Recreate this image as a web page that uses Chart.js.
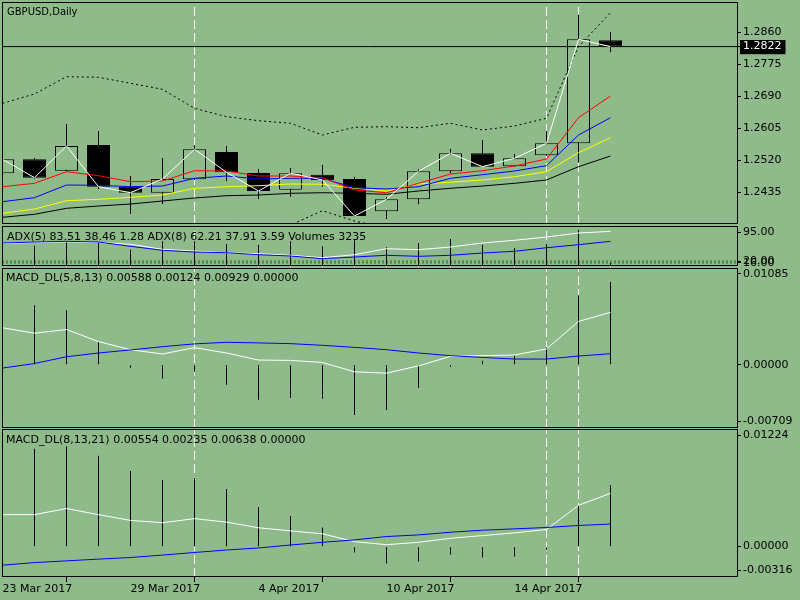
<!DOCTYPE html>
<html><head><meta charset="utf-8">
<script src="https://cdn.jsdelivr.net/npm/chart.js@4.4.1/dist/chart.umd.min.js"></script>
<style>
html,body{margin:0;padding:0;background:#8fbb8b;width:800px;height:600px;overflow:hidden}
canvas{position:absolute;left:0}
</style></head><body>
<canvas id="cMain" width="800" height="226" style="top:0px"></canvas>
<canvas id="cAdx" width="800" height="44" style="top:224px"></canvas>
<canvas id="cM1" width="800" height="164" style="top:266px"></canvas>
<canvas id="cM2" width="800" height="173" style="top:427px"></canvas>
<script>
// ---------------- DATA ----------------
const dates = ['23 Mar 2017','24 Mar 2017','27 Mar 2017','28 Mar 2017','29 Mar 2017','30 Mar 2017','31 Mar 2017','3 Apr 2017','4 Apr 2017','5 Apr 2017','6 Apr 2017','7 Apr 2017','10 Apr 2017','11 Apr 2017','12 Apr 2017','13 Apr 2017','14 Apr 2017','17 Apr 2017','18 Apr 2017','19 Apr 2017'];
const dateTickEvery = 4;
const separatorBars = [6, 17, 18];

const openP  = [1.24855,1.25227,1.24924,1.25606,1.24499,1.24339,1.24695,1.25420,1.24863,1.24419,1.24818,1.24703,1.23845,1.24164,1.24908,1.25386,1.25041,1.25333,1.25652,1.28388];
const highP  = [1.25260,1.25261,1.26164,1.25978,1.24783,1.25261,1.25598,1.25580,1.24969,1.24996,1.25083,1.24764,1.24225,1.24961,1.25508,1.25739,1.25367,1.25978,1.29068,1.28608];
const lowP   = [1.24820,1.24703,1.24910,1.24438,1.23782,1.24039,1.24680,1.24650,1.24172,1.24233,1.24499,1.23710,1.23641,1.24031,1.24855,1.25030,1.25030,1.25320,1.25147,1.28069];
const closeP = [1.25227,1.24738,1.25580,1.24499,1.24339,1.24703,1.25492,1.24881,1.24385,1.24855,1.24677,1.23720,1.24164,1.24908,1.25386,1.25030,1.25253,1.25652,1.28414,1.28220];

const maRed    = [1.24499,1.24589,1.24897,1.24791,1.24632,1.24650,1.24924,1.24916,1.24783,1.24783,1.24738,1.24411,1.24339,1.24589,1.24836,1.24924,1.25049,1.25235,1.26332,1.26908];
const maBlue   = [1.24100,1.24207,1.24544,1.24536,1.24499,1.24517,1.24722,1.24783,1.24703,1.24722,1.24722,1.24472,1.24438,1.24499,1.24722,1.24818,1.24916,1.25057,1.25872,1.26332];
const maYellow = [1.23792,1.23906,1.24127,1.24164,1.24217,1.24278,1.24456,1.24499,1.24525,1.24571,1.24563,1.24456,1.24385,1.24571,1.24616,1.24677,1.24764,1.24897,1.25402,1.25800];
const maBlack  = [1.23686,1.23766,1.23925,1.23986,1.24039,1.24119,1.24199,1.24260,1.24278,1.24323,1.24339,1.24323,1.24297,1.24385,1.24456,1.24517,1.24589,1.24677,1.25030,1.25314];
const bandUpper = [1.26714,1.26961,1.27421,1.27405,1.27245,1.27086,1.26581,1.26358,1.26252,1.26183,1.25872,1.26077,1.26093,1.26066,1.26183,1.26005,1.26111,1.26316,1.28218,1.29121];
const bandLower = [null,null,null,null,null,null,null,null,1.23300,1.23481,1.23861,1.23588,1.23400,null,null,null,null,null,null,null];

const priceTickLabels = ['1.2860','1.2775','1.2690','1.2605','1.2520','1.2435'];
const priceMin = 1.23508, priceMax = 1.29405;

const adx5  = [57.5,59.7,61.2,59.7,55.8,45.1,41.5,37.8,35.7,32.3,27.1,33.6,46.4,44.3,50.0,58.6,64.4,71.4,80.0,83.51];
const adx8  = [58.6,60.7,62.2,60.7,51.5,43.0,39.3,37.8,33.6,30.8,25.0,28.6,32.3,30.1,32.3,37.2,40.8,48.5,55.0,62.21];
const volumes = [null,21900,25900,25900,17600,26600,26600,23700,23000,26600,21200,27700,20200,24800,29100,23000,19400,23700,39100,3235];
const adxLevels = [20, 16];
const adxTickLabels = ['95.00','20.00','16.00'];
const adxMin = 9.4, adxMax = 95, volMax = 43120;

const m1Hist  = [null,0.00667,0.00610,0.00252,-0.00034,-0.00155,-0.00079,-0.00223,-0.00392,-0.00370,-0.00381,-0.00562,-0.00506,-0.00257,-0.00023,0.00045,0.00102,0.00195,0.00780,0.00929];
const m1Main  = [0.00415,0.00354,0.00395,0.00260,0.00169,0.00121,0.00192,0.00132,0.00053,0.00049,0.00026,-0.00079,-0.00094,-0.00012,0.00094,0.00102,0.00110,0.00177,0.00486,0.00588];
const m1Sig   = [-0.00037,0.00014,0.00090,0.00132,0.00166,0.00203,0.00234,0.00252,0.00245,0.00237,0.00218,0.00195,0.00169,0.00132,0.00102,0.00082,0.00064,0.00064,0.00098,0.00124];
const m1TickLabels = ['0.01085','0.00000','-0.00709'];

const m2Hist  = [null,0.01019,0.01043,0.00945,0.00788,0.00693,0.00717,0.00599,0.00412,0.00318,0.00199,-0.00061,-0.00176,-0.00155,-0.00082,-0.00113,-0.00103,-0.00035,0.00430,0.00638];
const m2Main  = [0.00333,0.00333,0.00396,0.00333,0.00273,0.00249,0.00291,0.00255,0.00196,0.00164,0.00133,0.00052,0.00020,0.00045,0.00087,0.00115,0.00143,0.00178,0.00430,0.00554];
const m2Sig   = [-0.00193,-0.00166,-0.00148,-0.00130,-0.00113,-0.00088,-0.00061,-0.00035,-0.00014,0.00017,0.00045,0.00070,0.00105,0.00122,0.00150,0.00171,0.00185,0.00199,0.00220,0.00235];
const m2TickLabels = ['0.01224','0.00000','-0.00316'];

const titleMain = 'GBPUSD,Daily';
const titleAdx = 'ADX(5) 83.51 38.46 1.28 ADX(8) 62.21 37.91 3.59 Volumes 3235';
const titleM1 = 'MACD_DL(5,8,13) 0.00588 0.00124 0.00929 0.00000';
const titleM2 = 'MACD_DL(8,13,21) 0.00554 0.00235 0.00638 0.00000';

// ---------------- LAYOUT / STYLE ----------------
const BG = '#8fbb8b';
const FAM = '"DejaVu Sans", sans-serif';
Chart.defaults.font.family = FAM;
Chart.defaults.font.size = 11;
Chart.defaults.color = '#000';
const BAR_PX = 32, PLOT_W = 735;
const X_MIN = -0.5 / BAR_PX;
const X_MAX = X_MIN + PLOT_W / BAR_PX;
const N = dates.length;
const bid = closeP[N - 1];

const P = arr => arr.map((v, i) => ({x: i, y: v}));
const line = (arr, color, order, extra) => Object.assign({type: 'line', data: P(arr), borderColor: color, borderWidth: 1, pointRadius: 0, tension: 0, order}, extra || {});
const sepSets = (min, max) => separatorBars.map(i => ({type: 'line', data: [{x: i, y: min}, {x: i, y: max}], borderColor: '#ffffff', borderWidth: 1, borderDash: [9, 4], pointRadius: 0, order: 50}));
const hbar = (arr, order, axis) => ({type: 'bar', data: P(arr), backgroundColor: '#000', borderWidth: 0, barThickness: 1, grouped: false, inflateAmount: 0, order, yAxisID: axis || 'y'});

function edgeTicks(labels, min, max, h) {
  return labels.map(t => {
    let v = parseFloat(t);
    if (Math.abs(v - max) < 1e-9) v = max - 6 * (max - min) / h;
    else if (Math.abs(v - min) < 1e-9) v = min + 7 * (max - min) / h;
    return {value: v, text: t};
  });
}
const noPad = s => { s.paddingTop = 0; s.paddingBottom = 0; s.paddingLeft = 0; s.paddingRight = 0; };

const panelPlugin = {
  id: 'panel',
  afterDraw(chart, args, opts) {
    const {ctx, chartArea: a} = chart;
    ctx.save();
    ctx.strokeStyle = '#000'; ctx.lineWidth = 1;
    ctx.strokeRect(a.left + 0.5, a.top + 0.5, a.right - a.left, a.bottom - a.top - 1);
    if (opts.title) {
      ctx.font = opts.size + 'px ' + FAM; ctx.fillStyle = '#000';
      ctx.textBaseline = 'middle'; ctx.textAlign = 'left';
      ctx.fillText(opts.title, a.left + opts.dx, a.top + opts.dy);
    }
    ctx.restore();
  }
};

function makeOptions(c) {
  const scales = {
    x: {type: 'linear', min: X_MIN, max: X_MAX, offset: false, display: !!c.showX,
        afterFit: s => { s.height = c.showX ? 23 : 0; noPad(s); },
        afterBuildTicks: s => { s.ticks = dates.map((d, i) => i).filter(i => i % dateTickEvery === 0).map(i => ({value: i})); },
        ticks: {callback: v => dates[v], align: 'start', maxRotation: 0, autoSkip: false, padding: 1, font: {size: 11}, color: '#000'},
        grid: {drawOnChartArea: false, drawTicks: true, tickLength: 5, color: '#000'},
        border: {display: false}},
    y: {type: 'linear', position: 'right', min: c.min, max: c.max,
        afterFit: s => { s.width = 800 - 737; noPad(s); },
        afterBuildTicks: s => { s.ticks = c.ticks.map(t => Object.assign({}, t)); },
        ticks: {callback: (v, i, t) => t[i].text, padding: 2, font: {size: 11}, autoSkip: false,
                color: ctx => (ctx.tick && ctx.tick.bid) ? '#ffffff' : '#000000',
                showLabelBackdrop: ctx => !!(ctx.tick && ctx.tick.bid),
                backdropColor: '#000000',
                backdropPadding: {left: 3, right: 4, top: 0, bottom: 1}},
        grid: {drawOnChartArea: false, drawTicks: true, tickLength: 4, color: '#000'},
        border: {display: false}}
  };
  if (c.extraScales) Object.assign(scales, c.extraScales);
  return {
    responsive: false, animation: false, devicePixelRatio: 1,
    layout: {padding: {left: 2, right: 0, top: 2, bottom: c.showX ? 0 : 2}},
    events: [],
    plugins: {legend: {display: false}, tooltip: {enabled: false},
              panel: {title: c.title, size: c.titleSize || 11, dx: c.dx, dy: c.dy}},
    scales
  };
}

// ---------------- MAIN PANEL ----------------
const bodyColors = openP.map((o, i) => closeP[i] >= o ? BG : '#000000');
new Chart(document.getElementById('cMain'), {
  type: 'bar',
  data: {datasets: [
    line(closeP, '#ffffff', 1),
    line(maRed, '#ff0000', 2),
    line(maBlue, '#0000ff', 3),
    line(maYellow, '#ffff00', 4),
    line(maBlack, '#000000', 5),
    line(bandUpper, '#000000', 6, {borderDash: [2, 3]}),
    line(bandLower, '#000000', 6, {borderDash: [2, 3]}),
    {type: 'line', data: [{x: X_MIN, y: bid}, {x: X_MAX, y: bid}], borderColor: '#000', borderWidth: 1, pointRadius: 0, order: 7},
    {type: 'bar', data: openP.map((o, i) => ({x: i, y: [o, closeP[i]]})), backgroundColor: bodyColors, borderColor: '#000', borderWidth: 1, borderSkipped: false, barThickness: 23, grouped: false, inflateAmount: 0, order: 9},
    {type: 'bar', data: lowP.map((l, i) => ({x: i, y: [l, highP[i]]})), backgroundColor: '#000', borderWidth: 0, barThickness: 1, grouped: false, inflateAmount: 0, order: 10},
    ...sepSets(priceMin, priceMax)
  ]},
  options: makeOptions({min: priceMin, max: priceMax,
    ticks: priceTickLabels.map(t => ({value: parseFloat(t), text: t})).concat([{value: bid, text: bid.toFixed(4), bid: true}]),
    title: titleMain, titleSize: 10, dx: 5, dy: 10}),
  plugins: [panelPlugin]
});

// ---------------- ADX / VOLUMES ----------------
new Chart(document.getElementById('cAdx'), {
  type: 'bar',
  data: {datasets: [
    line(adx5, '#ffffff', 2),
    line(adx8, '#0000ff', 1),
    ...adxLevels.map(v => ({type: 'line', data: [{x: X_MIN, y: v}, {x: X_MAX, y: v}], borderColor: '#1f6a1f', borderWidth: 1, borderDash: [2, 2], pointRadius: 0, order: 8})),
    hbar(volumes, 5, 'yv'),
    ...sepSets(adxMin, adxMax)
  ]},
  options: makeOptions({min: adxMin, max: adxMax, ticks: edgeTicks(adxTickLabels, adxMin, adxMax, 40),
    title: titleAdx, dx: 5, dy: 11,
    extraScales: {yv: {type: 'linear', display: false, min: 0, max: volMax}}}),
  plugins: [panelPlugin]
});

// ---------------- MACD 1 ----------------
const m1Min = -0.00709, m1Max = 0.01085;
new Chart(document.getElementById('cM1'), {
  type: 'bar',
  data: {datasets: [
    line(m1Main, '#ffffff', 2),
    line(m1Sig, '#0000ff', 1),
    hbar(m1Hist, 5),
    ...sepSets(m1Min, m1Max)
  ]},
  options: makeOptions({min: m1Min, max: m1Max, ticks: edgeTicks(m1TickLabels, m1Min, m1Max, 160),
    title: titleM1, dx: 4, dy: 10}),
  plugins: [panelPlugin]
});

// ---------------- MACD 2 ----------------
const m2Min = -0.00316, m2Max = 0.01224;
new Chart(document.getElementById('cM2'), {
  type: 'bar',
  data: {datasets: [
    line(m2Main, '#ffffff', 2),
    line(m2Sig, '#0000ff', 1),
    hbar(m2Hist, 5),
    ...sepSets(m2Min, m2Max)
  ]},
  options: makeOptions({min: m2Min, max: m2Max, ticks: edgeTicks(m2TickLabels, m2Min, m2Max, 148),
    title: titleM2, dx: 4, dy: 11, showX: true}),
  plugins: [panelPlugin]
});
</script>
</body></html>
